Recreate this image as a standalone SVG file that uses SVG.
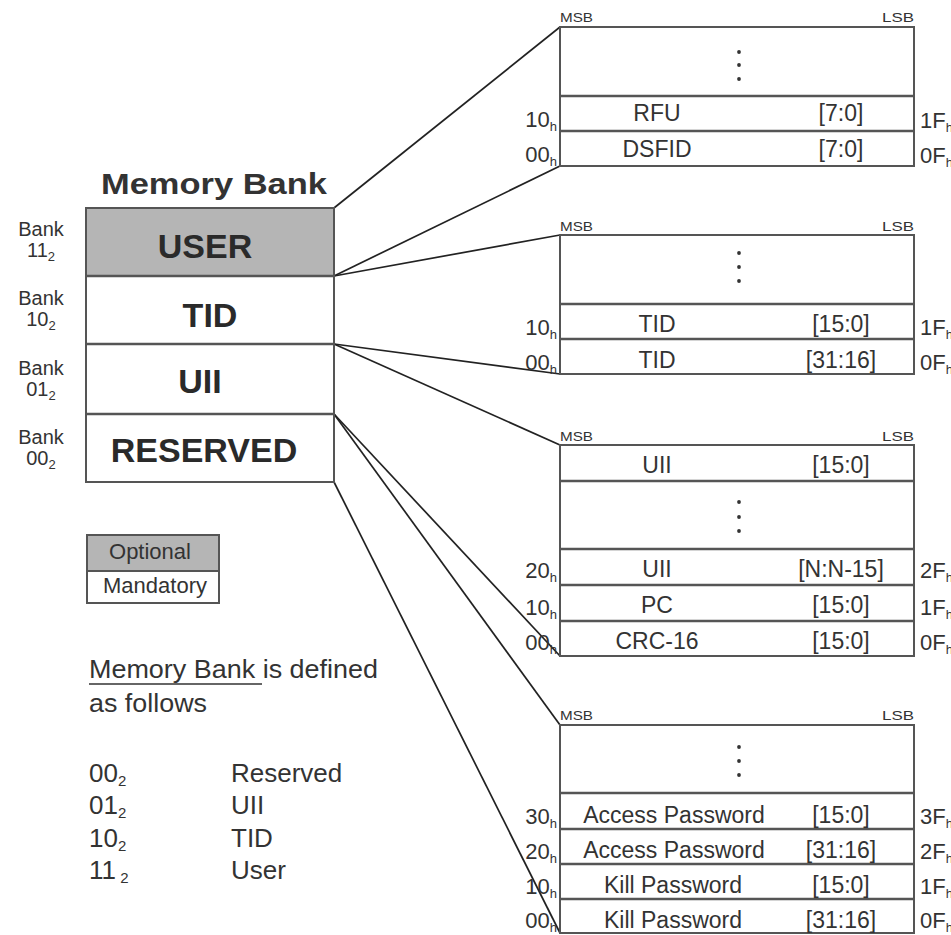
<svg xmlns="http://www.w3.org/2000/svg" width="951" height="935" viewBox="0 0 951 935">
<style>
text{font-family:"Liberation Sans",Arial,sans-serif;fill:#333}
.b{font-weight:bold;font-size:34px;text-anchor:middle;fill:#2a2a2a}
.bank{font-size:20px;text-anchor:middle}
.cell{font-size:23px;text-anchor:middle}
.addr{font-size:22px}
.addrL{font-size:22px;text-anchor:end}
.sub{font-size:13px}
.ms{font-size:13px}
.leg{font-size:22px;text-anchor:middle}
.def{font-size:26px}
.frame{fill:#fff;stroke:#555;stroke-width:2}
.div{stroke:#555;stroke-width:2.5}
.conn line{stroke:#222;stroke-width:1.7}
.dot{fill:#333}
</style>

<g id="connectors" class="conn">
<line x1="334" y1="208" x2="560" y2="27"/>
<line x1="334" y1="276" x2="560" y2="166"/>
<line x1="334" y1="276" x2="560" y2="235"/>
<line x1="334" y1="344" x2="560" y2="374"/>
<line x1="334" y1="344" x2="560" y2="445"/>
<line x1="334" y1="414" x2="560" y2="656"/>
<line x1="334" y1="414" x2="560" y2="725"/>
<line x1="334" y1="482" x2="560" y2="933"/>
</g>

<g id="memory-bank">
<text x="214" y="194" font-weight="bold" font-size="30" text-anchor="middle" textLength="226" lengthAdjust="spacingAndGlyphs" fill="#2a2a2a">Memory Bank</text>
<rect x="86" y="208" width="248" height="68" fill="#b5b5b5" stroke="#555" stroke-width="2"/>
<rect x="86" y="276" width="248" height="206" class="frame"/>
<line x1="86" y1="344" x2="334" y2="344" class="div"/>
<line x1="86" y1="414" x2="334" y2="414" class="div"/>
<line x1="86" y1="276" x2="334" y2="276" class="div"/>
<text x="205" y="258" class="b">USER</text>
<text x="210" y="327" class="b">TID</text>
<text x="200" y="393" class="b">UII</text>
<text x="204" y="462" class="b">RESERVED</text>
<text x="41" y="236" class="bank">Bank</text>
<text x="41" y="257" class="bank">11<tspan class="sub" dy="4">2</tspan></text>
<text x="41" y="305" class="bank">Bank</text>
<text x="41" y="326" class="bank">10<tspan class="sub" dy="4">2</tspan></text>
<text x="41" y="375" class="bank">Bank</text>
<text x="41" y="396" class="bank">01<tspan class="sub" dy="4">2</tspan></text>
<text x="41" y="444" class="bank">Bank</text>
<text x="41" y="465" class="bank">00<tspan class="sub" dy="4">2</tspan></text>
</g>

<g id="legend">
<rect x="87" y="535" width="132" height="36" fill="#b5b5b5" stroke="#555" stroke-width="2"/>
<rect x="87" y="571" width="132" height="32" class="frame"/>
<text x="150" y="559" class="leg">Optional</text>
<text x="155" y="593" class="leg">Mandatory</text>
</g>

<g id="definition">
<text x="89" y="678" class="def" textLength="289" lengthAdjust="spacingAndGlyphs">Memory Bank is defined</text>
<line x1="89" y1="684" x2="262" y2="684" stroke="#333" stroke-width="1.5"/>
<text x="89" y="712" class="def" textLength="118" lengthAdjust="spacingAndGlyphs">as follows</text>
<text x="89" y="782" class="def">00<tspan font-size="15" dy="4">2</tspan></text>
<text x="231" y="782" class="def">Reserved</text>
<text x="89" y="814" class="def">01<tspan font-size="15" dy="4">2</tspan></text>
<text x="231" y="814" class="def">UII</text>
<text x="89" y="847" class="def">10<tspan font-size="15" dy="4">2</tspan></text>
<text x="231" y="847" class="def">TID</text>
<text x="89" y="879" class="def">11<tspan font-size="15" dy="4"> 2</tspan></text>
<text x="231" y="879" class="def">User</text>
</g>

<g id="user-bank">
<text x="560" y="22" class="ms" textLength="33" lengthAdjust="spacingAndGlyphs">MSB</text>
<text x="882" y="22" class="ms" textLength="32" lengthAdjust="spacingAndGlyphs">LSB</text>
<rect x="560" y="27" width="354" height="139" class="frame"/>
<line x1="560" y1="96" x2="914" y2="96" class="div"/>
<line x1="560" y1="131" x2="914" y2="131" class="div"/>
<circle cx="739" cy="52" r="1.9" class="dot"/><circle cx="739" cy="65" r="1.9" class="dot"/><circle cx="739" cy="79" r="1.9" class="dot"/>
<text x="657" y="121" class="cell">RFU</text><text x="841" y="121" class="cell">[7:0]</text>
<text x="657" y="157" class="cell">DSFID</text><text x="841" y="157" class="cell">[7:0]</text>
<text x="557" y="127" class="addrL">10<tspan class="sub" dy="4">h</tspan></text>
<text x="557" y="162" class="addrL">00<tspan class="sub" dy="4">h</tspan></text>
<text x="920" y="128" class="addr">1F<tspan class="sub" dy="4">h</tspan></text>
<text x="920" y="163" class="addr">0F<tspan class="sub" dy="4">h</tspan></text>
</g>

<g id="tid-bank">
<text x="560" y="231" class="ms" textLength="33" lengthAdjust="spacingAndGlyphs">MSB</text>
<text x="882" y="231" class="ms" textLength="32" lengthAdjust="spacingAndGlyphs">LSB</text>
<rect x="560" y="235" width="354" height="139" class="frame"/>
<line x1="560" y1="304" x2="914" y2="304" class="div"/>
<line x1="560" y1="339" x2="914" y2="339" class="div"/>
<circle cx="739" cy="253" r="1.9" class="dot"/><circle cx="739" cy="267" r="1.9" class="dot"/><circle cx="739" cy="281" r="1.9" class="dot"/>
<text x="657" y="332" class="cell">TID</text><text x="841" y="332" class="cell">[15:0]</text>
<text x="657" y="368" class="cell">TID</text><text x="841" y="368" class="cell">[31:16]</text>
<text x="557" y="335" class="addrL">10<tspan class="sub" dy="4">h</tspan></text>
<text x="557" y="370" class="addrL">00<tspan class="sub" dy="4">h</tspan></text>
<text x="920" y="335" class="addr">1F<tspan class="sub" dy="4">h</tspan></text>
<text x="920" y="370" class="addr">0F<tspan class="sub" dy="4">h</tspan></text>
</g>

<g id="uii-bank">
<text x="560" y="441" class="ms" textLength="33" lengthAdjust="spacingAndGlyphs">MSB</text>
<text x="882" y="441" class="ms" textLength="32" lengthAdjust="spacingAndGlyphs">LSB</text>
<rect x="560" y="445" width="354" height="211" class="frame"/>
<line x1="560" y1="481" x2="914" y2="481" class="div"/>
<line x1="560" y1="549" x2="914" y2="549" class="div"/>
<line x1="560" y1="585" x2="914" y2="585" class="div"/>
<line x1="560" y1="621" x2="914" y2="621" class="div"/>
<circle cx="739" cy="502" r="1.9" class="dot"/><circle cx="739" cy="517" r="1.9" class="dot"/><circle cx="739" cy="531" r="1.9" class="dot"/>
<text x="657" y="473" class="cell">UII</text><text x="841" y="473" class="cell">[15:0]</text>
<text x="657" y="577" class="cell">UII</text><text x="841" y="577" class="cell">[N:N-15]</text>
<text x="657" y="613" class="cell">PC</text><text x="841" y="613" class="cell">[15:0]</text>
<text x="657" y="649" class="cell">CRC-16</text><text x="841" y="649" class="cell">[15:0]</text>
<text x="557" y="578" class="addrL">20<tspan class="sub" dy="4">h</tspan></text>
<text x="557" y="615" class="addrL">10<tspan class="sub" dy="4">h</tspan></text>
<text x="557" y="650" class="addrL">00<tspan class="sub" dy="4">h</tspan></text>
<text x="920" y="578" class="addr">2F<tspan class="sub" dy="4">h</tspan></text>
<text x="920" y="615" class="addr">1F<tspan class="sub" dy="4">h</tspan></text>
<text x="920" y="650" class="addr">0F<tspan class="sub" dy="4">h</tspan></text>
</g>

<g id="reserved-bank">
<text x="560" y="720" class="ms" textLength="33" lengthAdjust="spacingAndGlyphs">MSB</text>
<text x="882" y="720" class="ms" textLength="32" lengthAdjust="spacingAndGlyphs">LSB</text>
<rect x="560" y="725" width="354" height="208" class="frame"/>
<line x1="560" y1="793" x2="914" y2="793" class="div"/>
<line x1="560" y1="829" x2="914" y2="829" class="div"/>
<line x1="560" y1="864" x2="914" y2="864" class="div"/>
<line x1="560" y1="899" x2="914" y2="899" class="div"/>
<circle cx="739" cy="747" r="1.9" class="dot"/><circle cx="739" cy="761" r="1.9" class="dot"/><circle cx="739" cy="775" r="1.9" class="dot"/>
<text x="674" y="823" class="cell">Access Password</text><text x="841" y="823" class="cell">[15:0]</text>
<text x="674" y="858" class="cell">Access Password</text><text x="841" y="858" class="cell">[31:16]</text>
<text x="673" y="893" class="cell">Kill Password</text><text x="841" y="893" class="cell">[15:0]</text>
<text x="673" y="928" class="cell">Kill Password</text><text x="841" y="928" class="cell">[31:16]</text>
<text x="557" y="824" class="addrL">30<tspan class="sub" dy="4">h</tspan></text>
<text x="557" y="859" class="addrL">20<tspan class="sub" dy="4">h</tspan></text>
<text x="557" y="894" class="addrL">10<tspan class="sub" dy="4">h</tspan></text>
<text x="557" y="928" class="addrL">00<tspan class="sub" dy="4">h</tspan></text>
<text x="920" y="824" class="addr">3F<tspan class="sub" dy="4">h</tspan></text>
<text x="920" y="859" class="addr">2F<tspan class="sub" dy="4">h</tspan></text>
<text x="920" y="894" class="addr">1F<tspan class="sub" dy="4">h</tspan></text>
<text x="920" y="928" class="addr">0F<tspan class="sub" dy="4">h</tspan></text>
</g>
</svg>
